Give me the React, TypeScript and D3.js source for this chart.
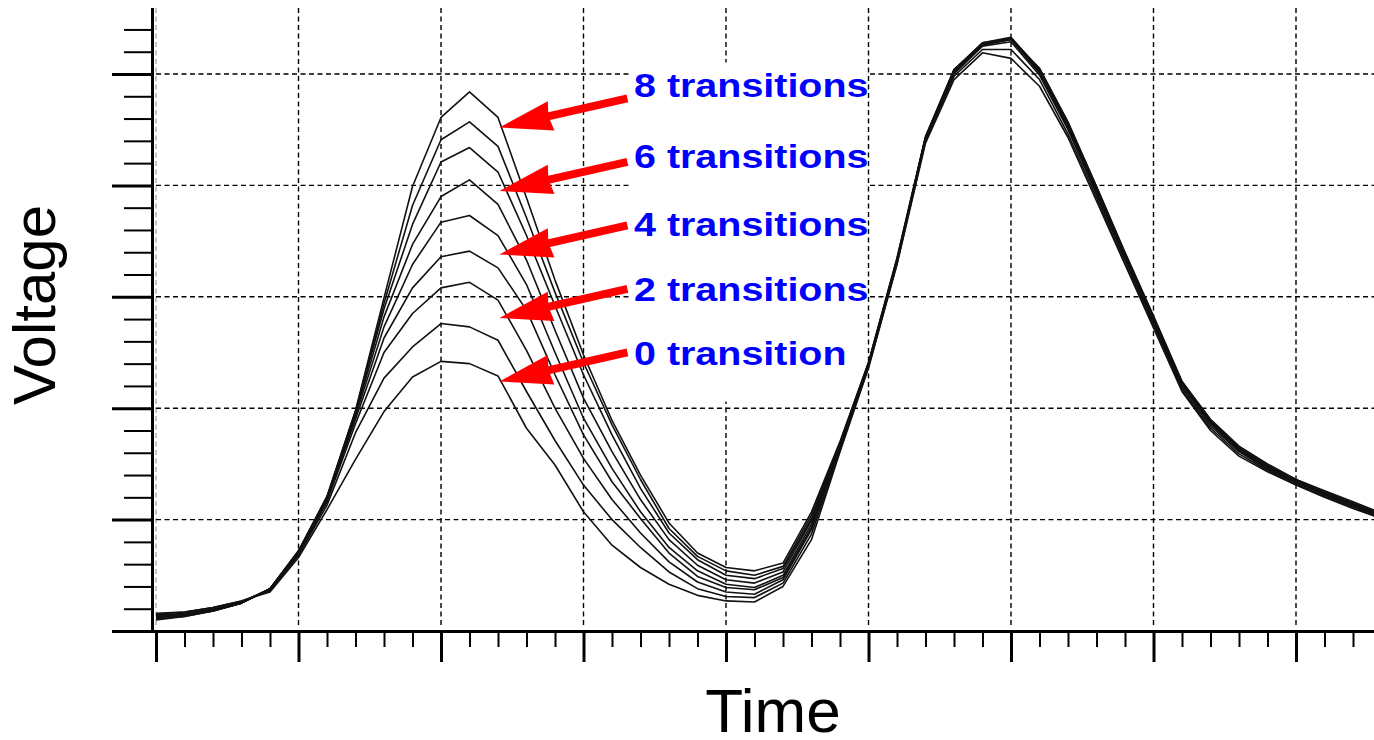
import React, { useEffect, useRef } from 'react';
import * as d3 from 'd3';

// sample instants, in screen divisions
const times = [0, 0.2, 0.4, 0.6, 0.8, 1, 1.2, 1.4, 1.6, 1.8, 2, 2.2, 2.4, 2.6, 2.8, 3, 3.2, 3.4, 3.6, 3.8, 4, 4.2, 4.4, 4.6, 4.8, 5, 5.2, 5.4, 5.6, 5.8, 6, 6.2, 6.4, 6.6, 6.8, 7, 7.2, 7.4, 7.6, 7.8, 8, 8.2, 8.4, 8.6];

// one waveform per number of preceding transitions (8 down to 0)
const transitions = [8, 7, 6, 5, 4, 3, 2, 1, 0];
const v8 = [0.10, 0.13, 0.18, 0.25, 0.38, 0.72, 1.21, 1.98, 2.99, 3.99, 4.61, 4.84, 4.61, 3.89, 3.15, 2.48, 1.89, 1.40, 0.97, 0.70, 0.57, 0.54, 0.61, 1.07, 1.70, 2.41, 3.35, 4.44, 5.04, 5.28, 5.32, 5.05, 4.57, 3.99, 3.40, 2.83, 2.24, 1.90, 1.66, 1.50, 1.36, 1.26, 1.16, 1.06];
const v7 = [0.11, 0.13, 0.18, 0.25, 0.38, 0.72, 1.20, 1.97, 2.94, 3.82, 4.41, 4.57, 4.35, 3.71, 3.04, 2.41, 1.85, 1.36, 0.92, 0.67, 0.54, 0.50, 0.58, 1.04, 1.69, 2.41, 3.34, 4.43, 5.04, 5.27, 5.31, 5.05, 4.56, 3.99, 3.39, 2.82, 2.24, 1.89, 1.65, 1.49, 1.36, 1.25, 1.15, 1.05];
const v6 = [0.12, 0.14, 0.18, 0.25, 0.38, 0.71, 1.20, 1.97, 2.89, 3.65, 4.21, 4.34, 4.12, 3.55, 2.92, 2.30, 1.76, 1.28, 0.88, 0.64, 0.50, 0.47, 0.56, 1.01, 1.68, 2.40, 3.33, 4.43, 5.03, 5.28, 5.33, 5.04, 4.55, 3.98, 3.38, 2.81, 2.23, 1.89, 1.64, 1.48, 1.35, 1.24, 1.14, 1.04];
const v5 = [0.13, 0.14, 0.19, 0.25, 0.38, 0.71, 1.19, 1.95, 2.82, 3.47, 3.90, 4.05, 3.83, 3.33, 2.70, 2.09, 1.61, 1.18, 0.82, 0.59, 0.46, 0.43, 0.53, 0.99, 1.67, 2.40, 3.32, 4.43, 5.03, 5.27, 5.32, 5.03, 4.54, 3.97, 3.38, 2.80, 2.22, 1.88, 1.63, 1.47, 1.35, 1.24, 1.14, 1.04];
const v4 = [0.13, 0.15, 0.19, 0.26, 0.38, 0.70, 1.18, 1.93, 2.73, 3.29, 3.67, 3.73, 3.55, 3.11, 2.50, 1.91, 1.46, 1.07, 0.75, 0.54, 0.42, 0.39, 0.50, 0.96, 1.66, 2.39, 3.32, 4.43, 5.02, 5.26, 5.31, 5.02, 4.53, 3.96, 3.37, 2.79, 2.21, 1.87, 1.62, 1.47, 1.34, 1.23, 1.13, 1.03];
const v3 = [0.14, 0.15, 0.19, 0.26, 0.37, 0.70, 1.18, 1.90, 2.63, 3.08, 3.36, 3.41, 3.26, 2.88, 2.30, 1.76, 1.34, 1.01, 0.70, 0.49, 0.39, 0.37, 0.48, 0.93, 1.65, 2.38, 3.31, 4.42, 5.01, 5.26, 5.31, 5.01, 4.52, 3.94, 3.35, 2.77, 2.20, 1.86, 1.62, 1.46, 1.34, 1.23, 1.13, 1.03];
const v2 = [0.14, 0.16, 0.20, 0.26, 0.37, 0.69, 1.16, 1.86, 2.50, 2.85, 3.08, 3.13, 2.97, 2.52, 2.00, 1.55, 1.18, 0.88, 0.62, 0.44, 0.35, 0.33, 0.46, 0.91, 1.64, 2.38, 3.31, 4.41, 5.00, 5.25, 5.29, 4.99, 4.50, 3.92, 3.33, 2.76, 2.18, 1.84, 1.61, 1.45, 1.33, 1.22, 1.12, 1.02];
const v1 = [0.15, 0.17, 0.21, 0.27, 0.36, 0.68, 1.13, 1.78, 2.27, 2.55, 2.76, 2.73, 2.61, 2.15, 1.71, 1.31, 1.00, 0.75, 0.53, 0.38, 0.31, 0.30, 0.43, 0.87, 1.62, 2.37, 3.30, 4.40, 4.98, 5.22, 5.22, 4.95, 4.46, 3.89, 3.30, 2.74, 2.16, 1.82, 1.59, 1.44, 1.32, 1.21, 1.11, 1.01];
const v0 = [0.16, 0.17, 0.21, 0.27, 0.35, 0.66, 1.09, 1.54, 1.97, 2.28, 2.42, 2.40, 2.29, 1.82, 1.49, 1.07, 0.77, 0.57, 0.42, 0.32, 0.27, 0.26, 0.40, 0.82, 1.61, 2.36, 3.29, 4.38, 4.95, 5.19, 5.14, 4.89, 4.43, 3.86, 3.29, 2.72, 2.15, 1.80, 1.57, 1.43, 1.31, 1.20, 1.10, 1.01];
const series = [v8, v7, v6, v5, v4, v3, v2, v1, v0];

// annotations
const labelTexts = ['8 transitions', '6 transitions', '4 transitions', '2 transitions', '0 transition'];
const labelVolts = [4.79, 4.16, 3.55, 2.96, 2.39];
const arrowTipTime = 2.41;
const arrowTipVolts = [4.52, 3.95, 3.38, 2.81, 2.24];

const xMajorTicks = [0, 1, 2, 3, 4, 5, 6, 7, 8];
const yMajorTicks = [0, 1, 2, 3, 4, 5];

const W = 1374, H = 740;
const x = d3.scaleLinear().domain([0, 8]).range([156, 1296]);
const y = d3.scaleLinear().domain([0, 5]).range([631, 74]);
const yTopPx = 8;

const isWhole = (t: number) => Math.abs(t - Math.round(t)) < 0.01;
const xMinorTicks = d3.range(0.2, 8.5, 0.2).filter(t => !isWhole(t));
const yMinorTicks = d3.range(0.2, 5.5, 0.2).filter(t => !isWhole(t));

const line = d3.line<number>().x((_, i) => x(times[i])).y(d => y(d));

function arrowPoints(tipX: number, tipY: number) {
  const tailX = tipX + 128, tailY = tipY - 29;
  const len = Math.hypot(tailX - tipX, tailY - tipY);
  const ux = (tailX - tipX) / len, uy = (tailY - tipY) / len;
  const nx = -uy, ny = ux;
  const head = 53, hw = 15, sw = 4;
  const p = (a: number, b: number) => `${tipX + ux * a + nx * b},${tipY + uy * a + ny * b}`;
  return [p(0, 0), p(head, hw), p(head - 2, sw), p(len, sw), p(len, -sw), p(head - 2, -sw), p(head, -hw)].join(' ');
}

export default function App() {
  const svgRef = useRef<SVGSVGElement>(null);

  useEffect(() => {
    const svg = d3.select(svgRef.current);
    const style = (g: any, w: number) => {
      g.select('.domain').remove();
      g.selectAll('.tick line').attr('stroke', '#000').attr('stroke-width', w);
      g.selectAll('.tick text').remove();
    };
    svg.select<SVGGElement>('.x-major')
      .attr('transform', 'translate(0,631)')
      .call(d3.axisBottom(x).tickValues(xMajorTicks).tickSize(31).tickSizeOuter(0))
      .call(g => style(g, 3));
    svg.select<SVGGElement>('.x-minor')
      .attr('transform', 'translate(0,631)')
      .call(d3.axisBottom(x).tickValues(xMinorTicks).tickSize(16).tickSizeOuter(0))
      .call(g => style(g, 2));
    svg.select<SVGGElement>('.y-major')
      .attr('transform', 'translate(152,0)')
      .call(d3.axisLeft(y).tickValues(yMajorTicks).tickSize(40).tickSizeOuter(0))
      .call(g => style(g, 3));
    svg.select<SVGGElement>('.y-minor')
      .attr('transform', 'translate(152,0)')
      .call(d3.axisLeft(y).tickValues(yMinorTicks).tickSize(28).tickSizeOuter(0))
      .call(g => style(g, 2));
  }, []);

  return (
    <svg ref={svgRef} width={W} height={H} style={{ position: 'absolute', left: 0, top: 0, background: '#fff' }}>
      <g className="grid" fill="none" strokeWidth={1.4} strokeDasharray="5,3.5">
        {xMajorTicks.map(t => (
          <line key={'vx' + t} x1={x(t)} x2={x(t)} y1={yTopPx} y2={628} stroke={t === 0 ? '#aaa' : '#000'} />
        ))}
        {yMajorTicks.filter(v => v > 0).map(v => (
          <line key={'hy' + v} x1={x(0)} x2={W} y1={y(v)} y2={y(v)} stroke="#000" />
        ))}
      </g>

      <g className="traces" fill="none" stroke="#111" strokeWidth={1.6} strokeLinejoin="round">
        {series.map((s, i) => (
          <path key={transitions[i]} d={line(s) || ''} />
        ))}
      </g>

      <g className="x-minor"></g>
      <g className="x-major"></g>
      <g className="y-minor"></g>
      <g className="y-major"></g>
      <line x1={152.5} x2={152.5} y1={yTopPx} y2={633} stroke="#000" strokeWidth={3} />
      <line x1={151} x2={W} y1={631.5} y2={631.5} stroke="#000" strokeWidth={3} />

      <g className="labels">
        {labelTexts.map((txt, i) => {
          const base = y(labelVolts[i]);
          return (
            <g key={txt}>
              <rect x={630} y={base - 35} width={txt.length * 18.2} height={72} fill="#fff" />
              <text
                transform={`translate(634,${base}) scale(1.16,1)`}
                fontFamily="'Liberation Sans', Arial, sans-serif"
                fontWeight="bold"
                fontSize={34}
                fill="#0000ff"
              >
                {txt}
              </text>
            </g>
          );
        })}
      </g>

      <g className="arrows" fill="#ff0000">
        {arrowTipVolts.map((v, i) => (
          <polygon key={i} points={arrowPoints(x(arrowTipTime), y(v))} />
        ))}
      </g>

      <text
        transform="translate(55,305) rotate(-90)"
        textAnchor="middle"
        fontFamily="'Liberation Sans', Arial, sans-serif"
        fontSize={60}
        fill="#000"
      >
        Voltage
      </text>
      <text
        x={773}
        y={732}
        textAnchor="middle"
        fontFamily="'Liberation Sans', Arial, sans-serif"
        fontSize={62}
        fill="#000"
      >
        Time
      </text>
    </svg>
  );
}
